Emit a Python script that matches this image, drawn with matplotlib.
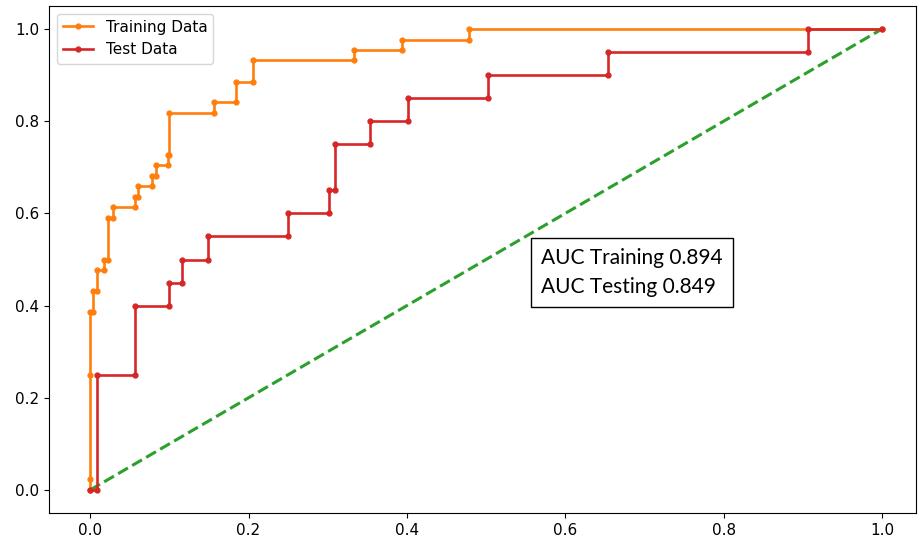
import matplotlib
matplotlib.use("Agg")
import matplotlib.pyplot as plt

# ROC points (fpr, tpr)
train_fpr = [0.0, 0.0, 0.0, 0.0, 0.004, 0.004, 0.008, 0.008, 0.018, 0.018,
             0.023, 0.023, 0.029, 0.029, 0.057, 0.057, 0.061, 0.061, 0.078, 0.078,
             0.083, 0.083, 0.098, 0.098, 0.100, 0.100, 0.157, 0.157, 0.184, 0.184,
             0.206, 0.206, 0.333, 0.333, 0.394, 0.394, 0.478, 0.478, 1.0]
train_tpr = [0.0, 0.023, 0.250, 0.386, 0.386, 0.432, 0.432, 0.477, 0.477, 0.500,
             0.500, 0.591, 0.591, 0.614, 0.614, 0.636, 0.636, 0.659, 0.659, 0.682,
             0.682, 0.705, 0.705, 0.727, 0.727, 0.818, 0.818, 0.841, 0.841, 0.886,
             0.886, 0.932, 0.932, 0.955, 0.955, 0.977, 0.977, 1.0, 1.0]

test_fpr = [0.0, 0.008, 0.008, 0.057, 0.057, 0.100, 0.100, 0.116, 0.116, 0.149,
            0.149, 0.250, 0.250, 0.302, 0.302, 0.309, 0.309, 0.353, 0.353, 0.402,
            0.402, 0.503, 0.503, 0.654, 0.654, 0.907, 0.907, 1.0]
test_tpr = [0.0, 0.0, 0.25, 0.25, 0.40, 0.40, 0.45, 0.45, 0.50, 0.50,
            0.55, 0.55, 0.60, 0.60, 0.65, 0.65, 0.75, 0.75, 0.80, 0.80,
            0.85, 0.85, 0.90, 0.90, 0.95, 0.95, 1.0, 1.0]

auc_train = 0.894
auc_test = 0.849

fig = plt.figure(figsize=(9.2, 5.39), dpi=100)
ax = fig.add_axes([49 / 920, 26 / 539, 867 / 920, 507 / 539])

ax.plot([0, 1], [0, 1], '--', color='tab:green', lw=2.2)
ax.plot(train_fpr, train_tpr, marker='.', ms=7, color='tab:orange', lw=1.9, label="Training Data")
ax.plot(test_fpr, test_tpr, marker='.', ms=7, color='tab:red', lw=1.9, label="Test Data")

ax.set_xlim(-0.052, 1.043)
ax.set_ylim(-0.05, 1.05)
ax.tick_params(labelsize=11)
ax.legend(loc='upper left', fontsize=11)

ax.text(0.5675, 0.474, f"AUC Training {auc_train}\nAUC Testing {auc_test}",
        transform=ax.transAxes, fontsize=15, family=['Lato', 'DejaVu Sans'],
        va='center', ha='left', linespacing=1.55,
        bbox=dict(boxstyle='square,pad=0.5', fc='white', ec='black', lw=1))

fig.savefig("out.png", dpi=100)
